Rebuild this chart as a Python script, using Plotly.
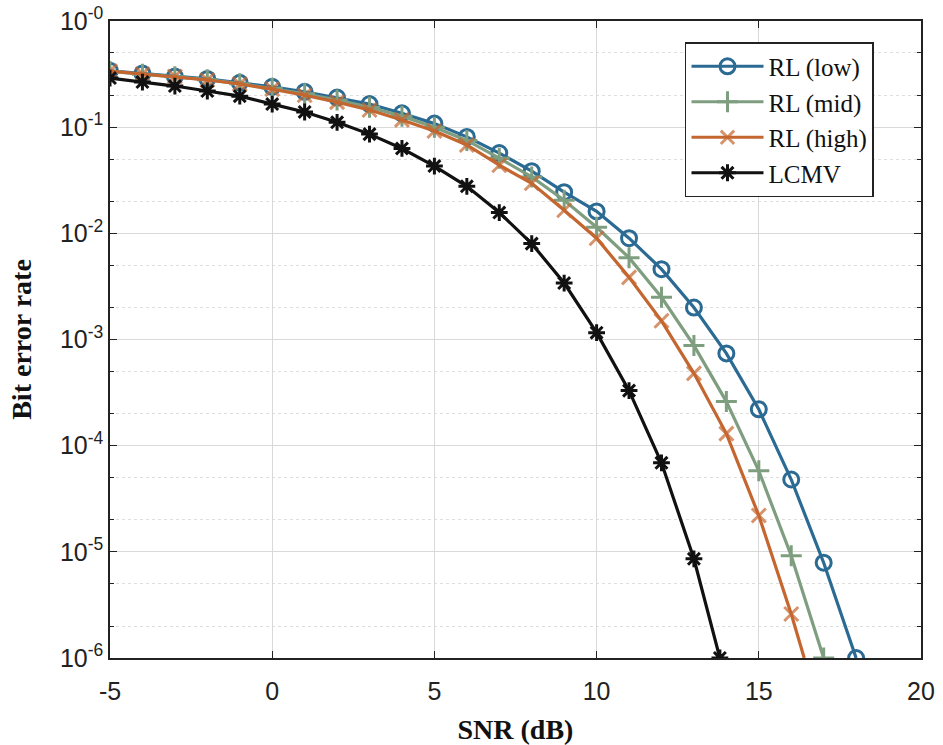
import plotly.graph_objects as go

snr_low = [-5, -4, -3, -2, -1, 0, 1, 2, 3, 4, 5, 6, 7, 8, 9, 10, 11, 12, 13, 14, 15, 16, 17, 18]
ber_low = [0.34, 0.32, 0.30, 0.285, 0.262, 0.24, 0.215, 0.19, 0.165, 0.135, 0.108, 0.081, 0.057,
           0.0385, 0.0244, 0.0161, 0.009, 0.0046, 0.002, 7.4e-4, 2.2e-4, 4.8e-5, 7.9e-6, 1e-6]

snr_mid = [-5, -4, -3, -2, -1, 0, 1, 2, 3, 4, 5, 6, 7, 8, 9, 10, 11, 12, 13, 14, 15, 16, 17]
ber_mid = [0.335, 0.315, 0.298, 0.28, 0.257, 0.232, 0.206, 0.18, 0.154, 0.127, 0.1, 0.075, 0.051,
           0.034, 0.0205, 0.0114, 0.0059, 0.0025, 8.8e-4, 2.6e-4, 5.8e-5, 9.2e-6, 1e-6]

snr_high = [-5, -4, -3, -2, -1, 0, 1, 2, 3, 4, 5, 6, 7, 8, 9, 10, 11, 12, 13, 14, 15, 16, 16.4]
ber_high = [0.337, 0.316, 0.3, 0.278, 0.255, 0.228, 0.2, 0.172, 0.145, 0.117, 0.092, 0.068, 0.0438,
            0.0296, 0.0165, 0.009, 0.00385, 0.0015, 4.8e-4, 1.3e-4, 2.2e-5, 2.6e-6, 1e-6]

snr_lcmv = [-5, -4, -3, -2, -1, 0, 1, 2, 3, 4, 5, 6, 7, 8, 9, 10, 11, 12, 13, 13.8]
ber_lcmv = [0.29, 0.266, 0.244, 0.219, 0.196, 0.165, 0.139, 0.111, 0.086, 0.063, 0.043, 0.0277,
            0.0157, 0.008, 0.0034, 0.00116, 3.3e-4, 6.9e-5, 8.6e-6, 1e-6]

y_tickvals = [1e-6, 1e-5, 1e-4, 1e-3, 1e-2, 1e-1, 1]
y_ticktext = ["10<sup>-6</sup>", "10<sup>-5</sup>", "10<sup>-4</sup>", "10<sup>-3</sup>",
              "10<sup>-2</sup>", "10<sup>-1</sup>", "10<sup>-0</sup>"]
x_tickvals = [-5, 0, 5, 10, 15, 20]
x_ticktext = ["-5", "0", "5", "10", "15", "20"]

c_low = "#2b6b93"
c_mid = "#7f9e80"
c_high = "#c4662f"
c_lcmv = "#111111"

fig = go.Figure()
fig.add_trace(go.Scatter(x=snr_low, y=ber_low, name="RL (low)", mode="lines+markers",
                         line=dict(color=c_low, width=3.2),
                         marker=dict(symbol="circle-open", size=15, color=c_low, line=dict(width=3))))
fig.add_trace(go.Scatter(x=snr_mid, y=ber_mid, name="RL (mid)", mode="lines+markers",
                         line=dict(color=c_mid, width=3.2),
                         marker=dict(symbol="cross-thin-open", size=15, color=c_mid, line=dict(width=3, color=c_mid))))
high_sizes = [14] * (len(snr_high) - 1) + [0]
fig.add_trace(go.Scatter(x=snr_high, y=ber_high, name="RL (high)", mode="lines+markers",
                         line=dict(color=c_high, width=3.2),
                         marker=dict(symbol="x-thin-open", size=high_sizes, color=c_high, line=dict(width=3, color=c_high))))
fig.add_trace(go.Scatter(x=snr_lcmv, y=ber_lcmv, name="LCMV", mode="lines+markers",
                         line=dict(color=c_lcmv, width=3.2),
                         marker=dict(symbol="asterisk-open", size=14, color=c_lcmv, line=dict(width=3, color=c_lcmv))))

fig.update_layout(
    width=943, height=745,
    margin=dict(l=110, r=22, t=21, b=87, autoexpand=False),
    paper_bgcolor="white", plot_bgcolor="white",
    showlegend=True,
    legend=dict(x=0.709, y=0.967, xanchor="left", yanchor="top",
                bgcolor="white", bordercolor="#222", borderwidth=1.5,
                font=dict(family="Liberation Serif", size=25, color="#111"),
                tracegroupgap=0, itemwidth=72),
)
fig.update_xaxes(
    range=[-5, 20], tickvals=x_tickvals, ticktext=x_ticktext, automargin=False,
    ticks="inside", ticklen=7, tickcolor="#222", ticklabelstandoff=10,
    showline=True, linecolor="#222", linewidth=1.5, mirror="ticks",
    showgrid=True, gridcolor="#d9d9d9", gridwidth=1, zeroline=False,
    tickfont=dict(family="Liberation Sans", size=25, color="#222"),
    title=dict(text="<b>SNR (dB)</b>", font=dict(family="Liberation Serif", size=28, color="#111"), standoff=28),
)
fig.update_yaxes(
    type="log", range=[-6, 0], tickvals=y_tickvals, ticktext=y_ticktext, automargin=False,
    ticks="inside", ticklen=7, tickcolor="#222",
    showline=True, linecolor="#222", linewidth=1.5, mirror="ticks",
    showgrid=True, gridcolor="#d9d9d9", gridwidth=1, zeroline=False,
    minor=dict(ticks="inside", ticklen=4, tickcolor="#222", showgrid=True,
               gridcolor="#dedede", griddash="dot", gridwidth=1),
    tickfont=dict(family="Liberation Sans", size=25, color="#222"),
    title=dict(text="<b>Bit error rate</b>", font=dict(family="Liberation Serif", size=28, color="#111"), standoff=20),
)

fig.write_html("out.html")
